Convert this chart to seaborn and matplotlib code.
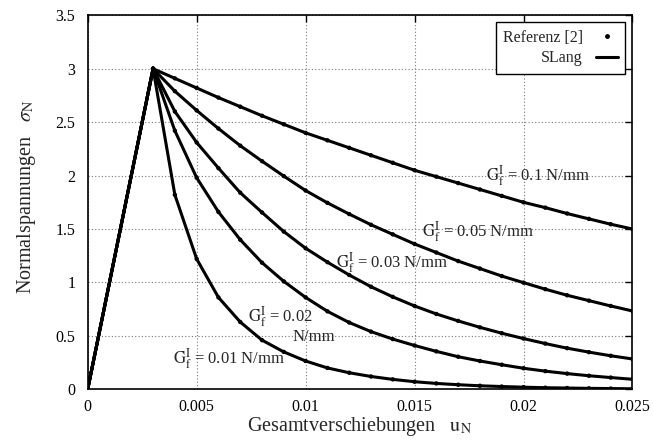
import numpy as np
import pandas as pd
import matplotlib
matplotlib.use("Agg")
import matplotlib.pyplot as plt
from matplotlib.lines import Line2D
import seaborn as sns

# ---------------- data ----------------
u_vals = [0.003, 0.004, 0.005, 0.006, 0.007, 0.008, 0.009, 0.010, 0.011, 0.012,
          0.013, 0.014, 0.015, 0.016, 0.017, 0.018, 0.019, 0.020, 0.021, 0.022,
          0.023, 0.024, 0.025]
rise_u = [0.0, 0.003]
rise_sigma = [0.0, 3.0]

sigma_g01 = [3.00, 2.91, 2.82, 2.73, 2.645, 2.56, 2.48, 2.40, 2.33, 2.26, 2.19, 2.12,
             2.05, 1.99, 1.93, 1.87, 1.81, 1.75, 1.70, 1.645, 1.595, 1.545, 1.50]
sigma_g005 = [3.00, 2.79, 2.61, 2.44, 2.28, 2.135, 1.995, 1.86, 1.745, 1.64, 1.54, 1.45,
              1.36, 1.28, 1.20, 1.13, 1.06, 0.998, 0.937, 0.88, 0.83, 0.78, 0.733]
sigma_g003 = [3.00, 2.60, 2.31, 2.07, 1.84, 1.655, 1.476, 1.32, 1.19, 1.07, 0.96, 0.865,
              0.78, 0.705, 0.64, 0.58, 0.525, 0.475, 0.428, 0.385, 0.348, 0.314, 0.284]
sigma_g002 = [3.00, 2.42, 1.98, 1.66, 1.40, 1.185, 1.01, 0.86, 0.73, 0.625, 0.54, 0.47,
              0.41, 0.355, 0.305, 0.265, 0.23, 0.197, 0.17, 0.147, 0.127, 0.11, 0.094]
sigma_g001 = [3.00, 1.82, 1.22, 0.86, 0.63, 0.46, 0.35, 0.265, 0.20, 0.155, 0.12, 0.093,
              0.071, 0.055, 0.043, 0.033, 0.026, 0.02, 0.015, 0.012, 0.009, 0.007, 0.005]

series_names = ["0.1", "0.05", "0.03", "0.02", "0.01"]
series_values = [sigma_g01, sigma_g005, sigma_g003, sigma_g002, sigma_g001]

x_ticks = [0, 0.005, 0.01, 0.015, 0.02, 0.025]
x_ticklabels = ["0", "0.005", "0.01", "0.015", "0.02", "0.025"]
y_ticks = [0, 0.5, 1, 1.5, 2, 2.5, 3, 3.5]
y_ticklabels = ["0", "0.5", "1", "1.5", "2", "2.5", "3", "3.5"]

# ---------------- frames ----------------
line_rows = []
dot_rows = []
for name, vals in zip(series_names, series_values):
    for u, s in zip(rise_u[:-1], rise_sigma[:-1]):
        line_rows.append({"u": u, "sigma": s, "Gf": name})
    for u, s in zip(u_vals, vals):
        line_rows.append({"u": u, "sigma": s, "Gf": name})
        dot_rows.append({"u": u, "sigma": s, "Gf": name})
df_line = pd.DataFrame(line_rows)
df_dot = pd.DataFrame(dot_rows)

# ---------------- style ----------------
sns.set_style("white")
plt.rcParams["font.family"] = ["Liberation Serif", "DejaVu Serif"]
plt.rcParams["mathtext.fontset"] = "stix"

fig = plt.figure(figsize=(6.53, 4.41), dpi=100)
ax = fig.add_axes([0.1343, 0.1172, 0.8343, 0.8481])

black5 = ["black"] * 5
sns.lineplot(data=df_line, x="u", y="sigma", hue="Gf", palette=black5,
             estimator=None, sort=False, legend=False, linewidth=2.2, ax=ax)
sns.scatterplot(data=df_dot, x="u", y="sigma", hue="Gf", palette=black5,
                s=10, linewidth=0, legend=False, ax=ax, zorder=5)

ax.set_xlim(0, 0.025)
ax.set_ylim(0, 3.5)
ax.set_xticks(x_ticks)
ax.set_xticklabels(x_ticklabels)
ax.set_yticks(y_ticks)
ax.set_yticklabels(y_ticklabels)
ax.tick_params(direction="in", length=5, width=1, top=True, right=True,
               labelsize=11.5, pad=7, colors="black")
ax.tick_params(axis="y", pad=9)
for sp in ax.spines.values():
    sp.set_visible(True)
    sp.set_color("black")
    sp.set_linewidth(1.2)

ax.grid(True, linestyle=(0, (1, 2)), color="#777777", linewidth=0.8)
ax.set_axisbelow(True)

ax.set_xlabel(r"Gesamtverschiebungen   $\mathrm{u_N}$", fontsize=14.5, labelpad=0)
ax.set_ylabel(r"Normalspannungen   $\sigma_\mathrm{N}$", fontsize=14.5)
ax.yaxis.set_label_coords(-0.092, 0.515)

# curve labels
lab_fs = 12
ax.text(0.0183, 2.0, r"$\mathrm{G^I_f}$ = 0.1 N/mm", fontsize=lab_fs, va="center", ha="left")
ax.text(0.01532, 1.48, r"$\mathrm{G^I_f}$ = 0.05 N/mm", fontsize=lab_fs, va="center", ha="left")
ax.text(0.01139, 1.19, r"$\mathrm{G^I_f}$ = 0.03 N/mm", fontsize=lab_fs, va="center", ha="left")
ax.text(0.00737, 0.68, r"$\mathrm{G^I_f}$ = 0.02", fontsize=lab_fs, va="center", ha="left")
ax.text(0.00939, 0.49, "N/mm", fontsize=lab_fs, va="center", ha="left")
ax.text(0.0039, 0.29, r"$\mathrm{G^I_f}$ = 0.01 N/mm", fontsize=lab_fs, va="center", ha="left")

# legend
handles = [Line2D([], [], color="black", marker="o", markersize=2.5, linestyle="none"),
           Line2D([], [], color="black", linewidth=2.2)]
leg = ax.legend(handles, ["Referenz [2]", "SLang"], loc="upper right",
                bbox_to_anchor=(1.0, 1.0), markerfirst=False, fontsize=11.5,
                frameon=True, fancybox=False, edgecolor="black", framealpha=1,
                handlelength=1.4, handletextpad=0.8, borderpad=0.45,
                labelspacing=0.3, borderaxespad=0.45)
leg.get_frame().set_linewidth(1.0)
for t in leg.get_texts():
    t.set_ha("right")
leg._legend_box.align = "right"

fig.savefig("out.png", dpi=100)
